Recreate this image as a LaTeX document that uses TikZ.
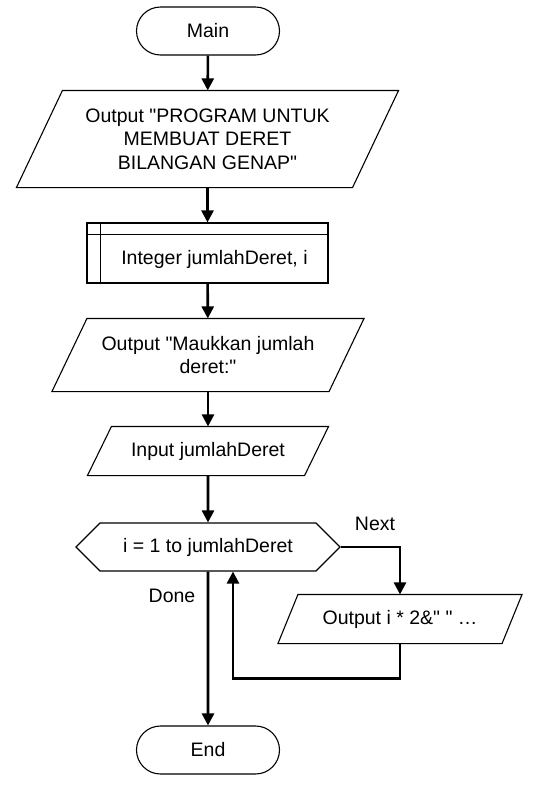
\documentclass[tikz,border=0pt]{standalone}
\usepackage{fontspec}
\setmainfont{Liberation Sans}
\usetikzlibrary{shapes,arrows.meta,positioning,calc}

\tikzset{
  base/.style={draw=black, line width=1.1pt, fill=white, align=center, inner sep=0pt,
    font=\fontsize{19.5}{23.4}\selectfont},
  term/.style={base, rounded rectangle, minimum width=143pt, minimum height=48pt},
  io/.style={base, draw=none, fill=none, rectangle, minimum height=#1},
  prebox/.style={base, rectangle, minimum width=241pt, minimum height=60pt},
  loophex/.style={base, signal, signal to=west and east, signal pointer angle=90,
    minimum width=264pt, minimum height=48pt},
  lbl/.style={font=\fontsize{19.5}{23.4}\selectfont, inner sep=0pt},
  outline/.style={line width=1.1pt},
  flow/.style={line width=2.6pt, -{Triangle[length=12pt,width=12pt]}}
}
\newcommand{\qq}{\textquotedbl}

\begin{document}
\begin{tikzpicture}[x=1pt,y=-1pt]
  \useasboundingbox (0,0) rectangle (535,785);

  % shapes
  \node[term] (main) at (208,31) {Main};
  \node[io=96pt, minimum width=381pt] (out1) at (207.5,139)
    {Output \qq PROGRAM UNTUK\\MEMBUAT DERET\\BILANGAN GENAP\qq};
  \node[prebox] (decl) at (207.5,253) {};
  \draw[outline] ([xshift=14pt]decl.north west) -- ([xshift=14pt]decl.south west);
  \draw[outline] ([yshift=-12pt]decl.north west) -- ([yshift=-12pt]decl.north east);
  \node[lbl] (decltext) at ([xshift=7pt,yshift=-6pt]decl.center) {Integer jumlahDeret, i};
  \node[io=72pt, minimum width=311pt] (out2) at (208,355) {Output \qq Maukkan jumlah\\deret:\qq};
  \node[io=48pt, minimum width=240pt] (inp) at (208,451) {Input jumlahDeret};
  \node[loophex] (loop) at (208,547) {i = 1 to jumlahDeret};
  \node[io=48pt, minimum width=243pt] (out3) at (400,619) {Output i * 2\&\qq{} \qq{} \dots};
  \node[term] (end) at (208,750) {End};

  % slanted sides of the in/out boxes
  \foreach \n/\s in {out1/46, out2/35, inp/24, out3/20} {
    \draw[outline] ($(\n.north west)+(\s,0)$) -- (\n.north east)
      -- ($(\n.south east)-(\s,0)$) -- (\n.south west) -- cycle;
  }

  % labels
  \node[lbl] (nextlbl) at (375,524) {Next};
  \node[lbl] (donelbl) at (172,596) {Done};

  % connectors
  \draw[flow] (main) -- (out1);
  \draw[flow] (out1) -- (decl);
  \draw[flow] (decl) -- (out2);
  \draw[flow] (out2) -- (inp);
  \draw[flow] (inp) -- (loop);
  \draw[flow] (loop.east) -| (out3.north);
  \draw[flow] (out3.south) -- ++(0,35) -| ([xshift=25pt]loop.south);
  \draw[flow] (loop) -- (end);
\end{tikzpicture}
\end{document}
